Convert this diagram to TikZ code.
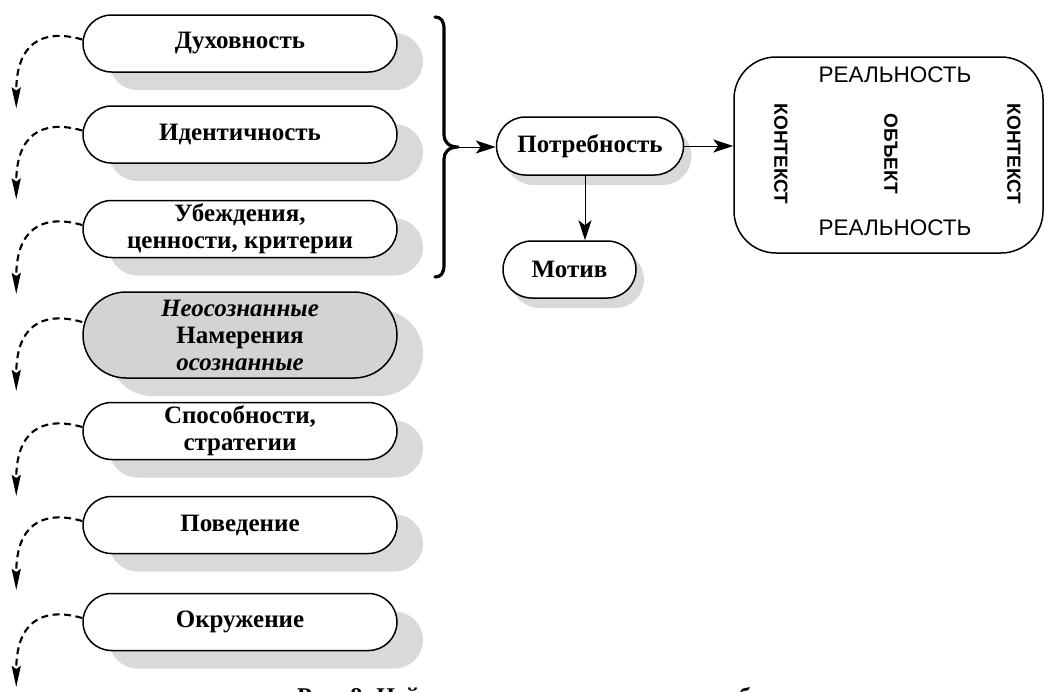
\documentclass[tikz,border=0pt]{standalone}
\usepackage{fontspec}
\setmainfont{Liberation Serif}
\setsansfont{Liberation Sans}
\usetikzlibrary{arrows.meta,shapes.misc,shadows,calc}
\definecolor{shade}{RGB}{217,217,217}
\definecolor{midgray}{RGB}{211,211,211}
\begin{document}
\begin{tikzpicture}[x=1pt,y=-1pt,
  pill/.style={rounded rectangle, draw, line width=1.5pt, fill=white,
    inner sep=0pt, align=center,
    font=\bfseries\fontsize{25}{27}\selectfont},
  level/.style={pill, minimum width=314pt, minimum height=57pt,
    drop shadow={shadow xshift=26pt, shadow yshift=-18pt, fill=shade, opacity=1}},
  need/.style={pill, drop shadow={shadow xshift=8pt, shadow yshift=-10pt, fill=shade, opacity=1}},
  dasharr/.style={dash pattern=on 7pt off 4.5pt, line width=2.1pt,
    -{Stealth[length=21pt,width=9pt,inset=3pt]}},
  arr/.style={line width=1pt, -{Stealth[length=20pt,width=13pt,inset=5pt]}},
  caps/.style={font=\sffamily\fontsize{22.5}{24}\selectfont, inner sep=0pt},
  vcaps/.style={font=\sffamily\bfseries\fontsize{19}{20}\selectfont, inner sep=0pt, rotate=-90},
]
\useasboundingbox (0,0) rectangle (1046,691);

% neurological levels
\node[level] (d1) at (240,43.5) {Духовность};
\node[level] (d2) at (240,134.5) {Идентичность};
\node[level] (d3) at (240,229) {Убеждения,\\ценности, критерии};
\node[level, fill=midgray, minimum height=86pt] (d4) at (240,335)
  {\textit{Неосознанные}\\Намерения\\\textit{осознанные}};
\node[level] (d5) at (240,431) {Способности,\\стратегии};
\node[level] (d6) at (240,525) {Поведение};
\node[level] (d7) at (240,622) {Окружение};

% dashed transitions down the levels
\foreach \n/\s in {d1/4,d2/4,d3/4,d4/13,d5/4,d6/4,d7/4}
  \draw[dasharr] ([yshift=\s pt]\n.west) .. controls +(-42,-12) and +(0,-63) .. +(-66,69);

% brace over the upper three levels
\draw[line width=3.2pt, line cap=round, line join=round]
  (435,17) .. controls (441,17) and (444,21) .. (444,29) -- (444,135)
  .. controls (444,142) and (449,147) .. (458,147) coordinate (bt)
  .. controls (449,147) and (444,152) .. (444,159) -- (444,265)
  .. controls (444,273) and (441,277) .. (435,277);

% need and motive
\node[need, minimum width=187pt, minimum height=58pt] (potr) at (590,146) {Потребность};
\node[need, minimum width=133pt, minimum height=57pt] (mot) at (569.5,269.5) {Мотив};

% reality frame
\node[draw, line width=1.5pt, rounded corners=42pt, minimum width=309pt,
  minimum height=196pt, inner sep=0pt] (real) at (888.5,155) {};
\node[caps] (rtop) at (895,75) {РЕАЛЬНОСТЬ};
\node[caps] (rbot) at (895,228) {РЕАЛЬНОСТЬ};
\node[vcaps] (kl) at (781,154) {КОНТЕКСТ};
\node[vcaps] (ob) at (891,154) {ОБЪЕКТ};
\node[vcaps] (kr) at (1014,154) {КОНТЕКСТ};

% connectors
\draw[arr] (bt) -- (bt -| potr.west);
\draw[arr] (potr.east) -- (potr.east -| real.west);
\draw[arr] ([xshift=-5pt]potr.south) -- ([xshift=-5pt]potr.south |- mot.north);

% caption, running off the lower edge of the page
\node[anchor=base west, inner sep=0pt, font=\bfseries\fontsize{24}{26}\selectfont]
  (cap) at (297,704) {Рис. 8. Нейрологические уровни и потребность};
\end{tikzpicture}
\end{document}
